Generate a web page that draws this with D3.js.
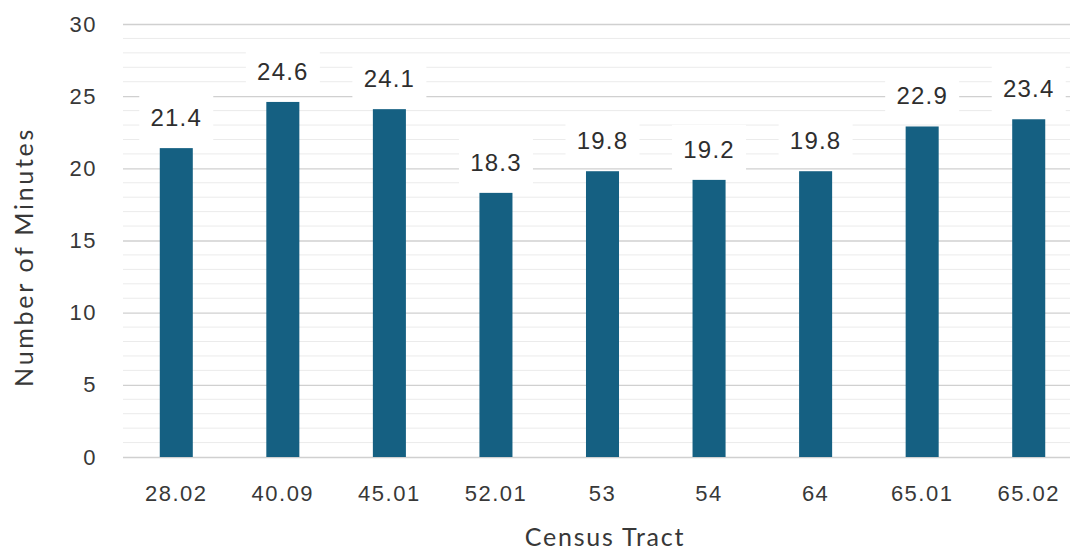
<!DOCTYPE html>
<html>
<head>
<meta charset="utf-8">
<script src="https://cdn.jsdelivr.net/npm/d3@7"></script>
<style>
  html, body { margin: 0; padding: 0; background: #fff; }
  svg { display: block; }
</style>
</head>
<body>
<svg id="chart" width="1070" height="552"></svg>
<script>
// Average commute time by census tract
const tracts = ["28.02", "40.09", "45.01", "52.01", "53", "54", "64", "65.01", "65.02"];
const minutes = [21.4, 24.6, 24.1, 18.3, 19.8, 19.2, 19.8, 22.9, 23.4];
const yMajorTicks = [0, 5, 10, 15, 20, 25, 30];
const yMinorTicks = d3.range(0, 31, 1).filter(v => v % 5 !== 0);

const svg = d3.select("#chart");
const margin = { top: 24, left: 123, bottom: 95 };
const plotRight = 1082;
const height = 552;
const numFont = "'Liberation Sans', Arial, sans-serif";
const titleFont = "Lato, 'Open Sans', sans-serif";

const x = d3.scaleBand()
  .domain(tracts)
  .range([margin.left, plotRight])
  .paddingInner(0.69)
  .paddingOuter(0.345);

const y = d3.scaleLinear()
  .domain([0, 30])
  .range([height - margin.bottom, margin.top]);

// minor gridlines
svg.append("g")
  .selectAll("line")
  .data(yMinorTicks)
  .join("line")
  .attr("x1", margin.left).attr("x2", plotRight)
  .attr("y1", d => y(d)).attr("y2", d => y(d))
  .attr("stroke", "#ebebeb").attr("stroke-width", 1);

// major gridlines + y labels
const yAxis = d3.axisLeft(y)
  .tickValues(yMajorTicks)
  .tickSize(-(plotRight - margin.left))
  .tickPadding(26)
  .tickFormat(d3.format("d"));

const gy = svg.append("g")
  .attr("transform", `translate(${margin.left},0)`)
  .call(yAxis);
gy.select(".domain").remove();
gy.selectAll(".tick line").attr("stroke", "#d0d0d0").attr("stroke-width", 1.3);
gy.selectAll(".tick text")
  .attr("fill", "#383838")
  .style("font-family", numFont)
  .style("font-size", "22px")
  .style("letter-spacing", "1.5px");

// bars
svg.append("g")
  .selectAll("rect")
  .data(tracts)
  .join("rect")
  .attr("x", d => x(d))
  .attr("width", x.bandwidth())
  .attr("y", (d, i) => y(minutes[i]))
  .attr("height", (d, i) => y(0) - y(minutes[i]))
  .attr("fill", "#156082");

// value labels on white boxes
const lbl = svg.append("g")
  .selectAll("g")
  .data(tracts)
  .join("g")
  .attr("transform", (d, i) => `translate(${x(d) + x.bandwidth() / 2},${y(minutes[i]) - 31})`);
lbl.append("rect")
  .attr("x", -37).attr("y", -24)
  .attr("width", 74).attr("height", 48)
  .attr("fill", "#fff");
lbl.append("text")
  .attr("text-anchor", "middle")
  .attr("dy", "0.36em")
  .attr("fill", "#2e2e2e")
  .style("font-family", numFont)
  .style("font-size", "24px")
  .style("letter-spacing", "1.2px")
  .text((d, i) => minutes[i].toFixed(1));

// x axis labels
const xAxis = d3.axisBottom(x).tickSize(0).tickPadding(28);
const gx = svg.append("g")
  .attr("transform", `translate(0,${y(0)})`)
  .call(xAxis);
gx.select(".domain").remove();
gx.selectAll(".tick text")
  .attr("fill", "#383838")
  .style("font-family", numFont)
  .style("font-size", "22px")
  .style("letter-spacing", "1.5px");

// axis titles
svg.append("text")
  .attr("x", 605).attr("y", 546)
  .attr("text-anchor", "middle")
  .attr("fill", "#383838")
  .style("font-family", titleFont)
  .style("font-size", "25px")
  .style("letter-spacing", "1.8px")
  .text("Census Tract");

svg.append("text")
  .attr("transform", "translate(33,257) rotate(-90)")
  .attr("text-anchor", "middle")
  .attr("fill", "#383838")
  .style("font-family", titleFont)
  .style("font-size", "25px")
  .style("letter-spacing", "2.7px")
  .text("Number of Minutes");
</script>
</body>
</html>
